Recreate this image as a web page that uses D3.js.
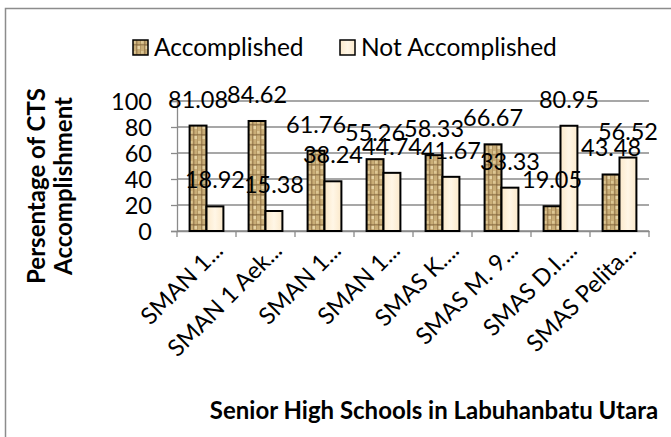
<!DOCTYPE html>
<html>
<head>
<meta charset="utf-8">
<script src="https://cdn.jsdelivr.net/npm/d3@7"></script>
<style>
  html, body { margin: 0; padding: 0; background: #fff; }
  svg { display: block; }
  text { font-family: Lato, "Open Sans", sans-serif; fill: #000; }
</style>
</head>
<body>
<svg id="chart" width="671" height="437"></svg>
<script>
const categories = ["SMAN 1...", "SMAN 1 Aek...", "SMAN 1...", "SMAN 1...", "SMAS K....", "SMAS M. 9...", "SMAS D.I....", "SMAS Pelita..."];
const accomplished = [81.08, 84.62, 61.76, 55.26, 58.33, 66.67, 19.05, 43.48];
const notAccomplished = [18.92, 15.38, 38.24, 44.74, 41.67, 33.33, 80.95, 56.52];
const seriesNames = ["Accomplished", "Not Accomplished"];
const yTicks = [0, 20, 40, 60, 80, 100];
const yTitleLines = ["Persentage of CTS", "Accomplishment"];
const xTitle = "Senior High Schools in Labuhanbatu Utara";

const svg = d3.select("#chart");
const defs = svg.append("defs");

// woven tan texture for "Accomplished"
const pat = defs.append("pattern").attr("id", "weave").attr("patternUnits", "userSpaceOnUse")
  .attr("width", 8).attr("height", 10);
pat.append("rect").attr("width", 8).attr("height", 10).attr("fill", "#c9ad77");
pat.append("rect").attr("x", 0).attr("y", 0).attr("width", 1.5).attr("height", 10).attr("fill", "#7a5c33").attr("opacity", 0.5);
pat.append("rect").attr("x", 4).attr("y", 0).attr("width", 1).attr("height", 10).attr("fill", "#8f7245").attr("opacity", 0.4);
pat.append("rect").attr("x", 0).attr("y", 4).attr("width", 8).attr("height", 1.5).attr("fill", "#6e5230").attr("opacity", 0.45);
pat.append("rect").attr("x", 1.5).attr("y", 6).attr("width", 2.5).attr("height", 3).attr("fill", "#eedfb4").attr("opacity", 0.75);
pat.append("rect").attr("x", 5).attr("y", 1).attr("width", 2.5).attr("height", 2.5).attr("fill", "#e8d6a5").attr("opacity", 0.65);

const grad = defs.append("linearGradient").attr("id", "cream").attr("x1", "0").attr("x2", "1").attr("y1", "0").attr("y2", "0");
grad.append("stop").attr("offset", "0").attr("stop-color", "#fbe9cb");
grad.append("stop").attr("offset", "0.5").attr("stop-color", "#fff6e6");
grad.append("stop").attr("offset", "1").attr("stop-color", "#fbe9cb");

const fills = ["url(#weave)", "url(#cream)"];

// chart border (only top/left visible)
svg.append("rect").attr("x", 5.5).attr("y", 8.5).attr("width", 800).attr("height", 600)
  .attr("fill", "none").attr("stroke", "#8c8c8c").attr("stroke-width", 1.5);

const plot = { left: 177, right: 649, top: 101, bottom: 231 };

const x0 = d3.scaleBand().domain(d3.range(categories.length)).range([plot.left, plot.right]).padding(0);
const x1 = d3.scaleBand().domain(seriesNames).range([12.6, x0.bandwidth() - 12.6]).padding(0);
const y = d3.scaleLinear().domain([0, 100]).range([plot.bottom, plot.top]);

// gridlines
svg.append("g").selectAll("line").data(yTicks).join("line")
  .attr("x1", plot.left).attr("x2", plot.right)
  .attr("y1", d => y(d)).attr("y2", d => y(d))
  .attr("stroke", "#8a8a8a").attr("stroke-width", 1.3);

// y axis
const yAxis = svg.append("g").attr("transform", `translate(${plot.left},0)`)
  .call(d3.axisLeft(y).tickValues(yTicks).tickSize(6).tickPadding(19).tickFormat(d3.format("d")));
yAxis.select(".domain").attr("stroke", "#8a8a8a").attr("stroke-width", 1.3);
yAxis.selectAll(".tick line").attr("stroke", "#8a8a8a").attr("stroke-width", 1.3);
yAxis.selectAll(".tick text").attr("font-family", "Lato").attr("font-size", 23.5).attr("fill", "#000").attr("dy", "0.36em");

// x axis
const xAxis = svg.append("g").attr("transform", `translate(0,${plot.bottom})`)
  .call(d3.axisBottom(x0).tickValues([]).tickSizeOuter(0));
xAxis.select(".domain").attr("stroke", "#8a8a8a").attr("stroke-width", 1.3);
const boundaries = d3.range(categories.length + 1).map(i => i < categories.length ? x0(i) : x0(categories.length - 1) + x0.bandwidth());
xAxis.selectAll("line.bt").data(boundaries).join("line").attr("class", "bt")
  .attr("x1", d => d).attr("x2", d => d).attr("y1", 0).attr("y2", 6)
  .attr("stroke", "#8a8a8a").attr("stroke-width", 1.3);

// category labels
svg.append("g").selectAll("text").data(categories).join("text")
  .attr("transform", (d, i) => `translate(${x0(i) + x0.bandwidth() / 2 + 18},252) rotate(-45)`)
  .attr("text-anchor", "end").attr("font-size", 23.5).text(d => d);

// bars
const rows = categories.map((c, i) => ({ i, values: [accomplished[i], notAccomplished[i]] }));
const groups = svg.append("g").selectAll("g").data(rows).join("g")
  .attr("transform", d => `translate(${x0(d.i)},0)`);
groups.selectAll("rect").data(d => d.values.map((v, k) => ({ k, v }))).join("rect")
  .attr("x", d => x1(seriesNames[d.k]))
  .attr("width", x1.bandwidth())
  .attr("y", d => y(d.v))
  .attr("height", d => y(0) - y(d.v))
  .attr("fill", d => fills[d.k])
  .attr("stroke", "#000").attr("stroke-width", 2);

// data labels
groups.selectAll("text").data(d => d.values.map((v, k) => ({ k, v }))).join("text")
  .attr("x", d => x1(seriesNames[d.k]) + x1.bandwidth() / 2)
  .attr("y", d => y(d.v) - 18)
  .attr("text-anchor", "middle").attr("font-size", 23.5)
  .text(d => d.v.toFixed(2));

// legend
const leg = svg.append("g");
const legX = [133, 340];
seriesNames.forEach((s, k) => {
  leg.append("rect").attr("x", legX[k]).attr("y", 40).attr("width", 15).attr("height", 15)
    .attr("fill", fills[k]).attr("stroke", "#000").attr("stroke-width", 1.5);
  leg.append("text").attr("x", legX[k] + 21).attr("y", 56).attr("font-size", 24.5).text(s);
});

// axis titles
svg.append("g").selectAll("text").data(yTitleLines).join("text")
  .attr("transform", (d, i) => `translate(${45 + i * 27},186) rotate(-90)`)
  .attr("text-anchor", "middle").attr("font-size", 24).attr("font-weight", "bold").text(d => d);

svg.append("text").attr("x", 434).attr("y", 419).attr("text-anchor", "middle")
  .attr("font-size", 24).attr("font-weight", "bold").text(xTitle);
</script>
</body>
</html>
